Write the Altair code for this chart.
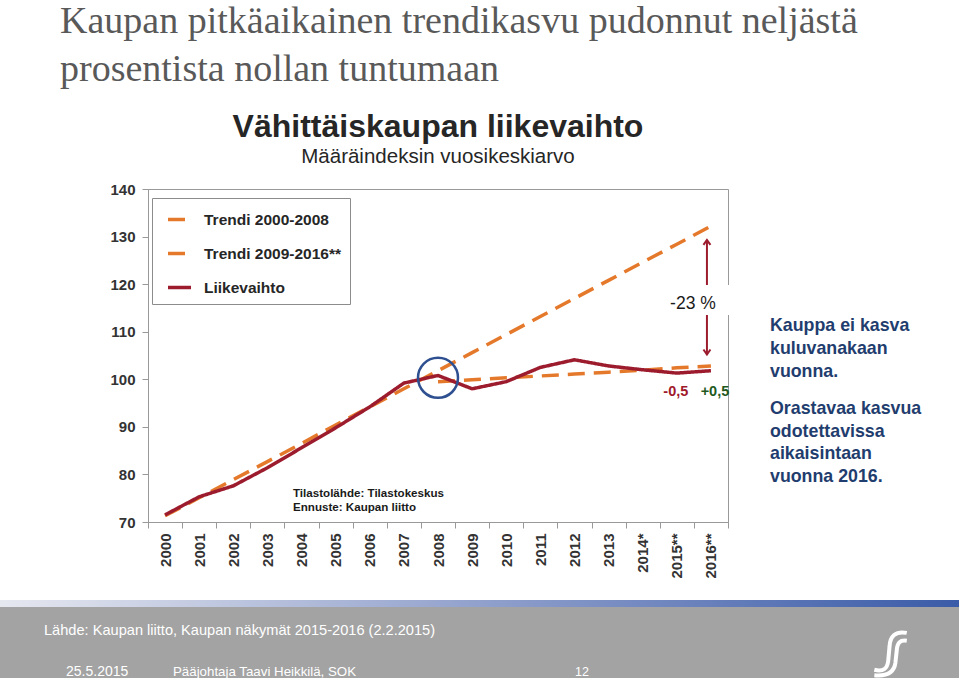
import altair as alt
import pandas as pd

# ---------------- data ----------------
years = ["2000", "2001", "2002", "2003", "2004", "2005", "2006", "2007", "2008",
         "2009", "2010", "2011", "2012", "2013", "2014*", "2015**", "2016**"]
liikevaihto = [71.5, 75.3, 77.6, 81.4, 85.6, 89.8, 94.2, 99.2, 100.8,
               98.0, 99.5, 102.5, 104.1, 102.8, 102.0, 101.3, 101.8]
trend_2000_2008 = [71.3, 75.1, 78.9, 82.7, 86.5, 90.4, 94.2, 98.0, 101.8,
                   105.6, 109.4, 113.2, 117.0, 120.8, 124.6, 128.4, 132.2]
trend2_years = ["2008", "2009", "2010", "2011", "2012", "2013", "2014*", "2015**", "2016**"]
trend_2009_2016 = [99.5, 99.9, 100.3, 100.7, 101.1, 101.5, 101.9, 102.4, 102.8]
series_names = ["Trendi 2000-2008", "Trendi 2009-2016**", "Liikevaihto"]
y_ticks = [70, 80, 90, 100, 110, 120, 130, 140]

circle_year, circle_value = "2008", 100.3
arrow_year, arrow_top, arrow_bottom = "2016**", 129.3, 105.2
gap_top, gap_bottom = 119.8, 113.5
label_23_value = 115.8
label_small_value = 97.4

ORANGE = "#E5792B"
RED = "#9C1C2D"
NAVY = "#1F3D6E"
SANS = "Liberation Sans"
SERIF = "Liberation Serif"

OX, OY = 148, 189  # plot origin on the page
W, H = 580, 333

rows = []
for y, v in zip(years, trend_2000_2008):
    rows.append({"year": y, "value": v, "series": series_names[0]})
for y, v in zip(trend2_years, trend_2009_2016):
    rows.append({"year": y, "value": v, "series": series_names[1]})
for y, v in zip(years, liikevaihto):
    rows.append({"year": y, "value": v, "series": series_names[2]})
df = pd.DataFrame(rows)

x_enc = alt.X("year:N", sort=years, title=None,
              scale=alt.Scale(type="band", domain=years, paddingInner=0, paddingOuter=0),
              axis=alt.Axis(labelAngle=270, tickBand="extent", tickSize=6, labelPadding=5,
                            labelFontSize=15, labelFontWeight="bold", labelFont=SANS,
                            labelColor="#333333", domainColor="#999999", tickColor="#999999"))
y_enc = alt.Y("value:Q", title=None,
              scale=alt.Scale(domain=[70, 140], nice=False, zero=False),
              axis=alt.Axis(values=y_ticks, grid=False, tickSize=6, labelPadding=7,
                            labelFontSize=15, labelFontWeight="bold", labelFont=SANS,
                            labelColor="#333333", domainColor="#999999", tickColor="#999999"))
color_enc = alt.Color("series:N", scale=alt.Scale(domain=series_names, range=[ORANGE, ORANGE, RED]),
                      legend=alt.Legend(title=None, orient="none", legendX=4, legendY=9,
                                        symbolType="stroke", symbolSize=529, symbolStrokeWidth=3.5,
                                        symbolOffset=6,
                                        labelFontSize=15.5, labelFontWeight="bold", labelFont=SANS,
                                        labelColor="#262626", labelOffset=11, labelLimit=300,
                                        padding=8, rowPadding=12, fillColor="white",
                                        strokeColor="#8c8c8c", cornerRadius=0))
dash_enc = alt.StrokeDash("series:N",
                          scale=alt.Scale(domain=series_names, range=[[17, 9], [17, 9], [1, 0]]),
                          legend=None)

lines = alt.Chart(df).mark_line(strokeWidth=3.5).encode(
    x=x_enc, y=y_enc, color=color_enc, strokeDash=dash_enc, detail="series:N")

circle = alt.Chart(pd.DataFrame({"year": [circle_year], "value": [circle_value]})).mark_point(
    shape="circle", size=1600, filled=False, stroke="#2E5090", strokeWidth=2.5, opacity=1
).encode(x=alt.X("year:N", sort=years), y="value:Q")

arrow_df = pd.DataFrame({"year": [arrow_year], "top": [arrow_top], "bottom": [arrow_bottom]})
arrow = alt.Chart(arrow_df).mark_rule(color=RED, strokeWidth=2, xOffset=-4).encode(
    x=alt.X("year:N", sort=years), y="top:Q", y2="bottom")
head_up = alt.Chart(arrow_df).mark_point(shape="M -0.7 1 L 0 0 L 0.7 1", size=100, filled=False,
                                          stroke=RED, strokeWidth=2, xOffset=-4, opacity=1).encode(
    x=alt.X("year:N", sort=years), y="top:Q")
head_down = alt.Chart(arrow_df).mark_point(shape="M -0.7 -1 L 0 0 L 0.7 -1", size=100, filled=False,
                                            stroke=RED, strokeWidth=2, xOffset=-4, opacity=1).encode(
    x=alt.X("year:N", sort=years), y="bottom:Q")

gap_box = alt.Chart(pd.DataFrame({"a": [gap_top], "b": [gap_bottom]})).mark_rect(color="white").encode(
    x=alt.value(668 - OX), x2=alt.value(734 - OX), y="a:Q", y2="b:Q")
lab23 = alt.Chart(pd.DataFrame({"year": [arrow_year], "value": [label_23_value]})).mark_text(
    text="-23 %", font=SANS, fontSize=17.5, color="#1a1a1a", align="center", baseline="middle", dx=-18
).encode(x=alt.X("year:N", sort=years), y="value:Q")
lab_m = alt.Chart(pd.DataFrame({"year": ["2015**"], "value": [label_small_value]})).mark_text(
    text="-0,5", font=SANS, fontSize=14.5, fontWeight="bold", color="#A0192B", align="center",
    baseline="middle", dx=-1).encode(x=alt.X("year:N", sort=years), y="value:Q")
lab_p = alt.Chart(pd.DataFrame({"year": ["2016**"], "value": [label_small_value]})).mark_text(
    text="+0,5", font=SANS, fontSize=14.5, fontWeight="bold", color="#1E5A1E", align="center",
    baseline="middle", dx=4).encode(x=alt.X("year:N", sort=years), y="value:Q")


def txt(text, x, y, size, color, weight="normal", font=SANS, align="left", baseline="alphabetic",
        line_height=None):
    kw = dict(text=text, font=font, fontSize=size, color=color, fontWeight=weight, align=align,
              baseline=baseline)
    if line_height:
        kw["lineHeight"] = line_height
    return alt.Chart(alt.Data(values=[{"k": 1}])).mark_text(**kw).encode(
        x=alt.value(x - OX), y=alt.value(y - OY))


source1 = txt("Tilastolähde: Tilastokeskus", 293, 497, 11.6, "#1a1a1a", "bold")
source2 = txt("Ennuste: Kaupan liitto", 293, 511, 11.6, "#1a1a1a", "bold")

slide_title = txt(["Kaupan pitkäaikainen trendikasvu pudonnut neljästä",
                   "prosentista nollan tuntumaan"], 60, 33, 38, "#595959", font=SERIF,
                  line_height=48)
chart_title = txt("Vähittäiskaupan liikevaihto", 438, 137, 32, "#262626", "bold", align="center")
chart_sub = txt("Määräindeksin vuosikeskiarvo", 438, 163, 20.5, "#262626", align="center")

note1 = txt(["Kauppa ei kasva", "kuluvanakaan", "vuonna."], 770, 331, 17.8, NAVY, "bold",
            line_height=22.8)
note2 = txt(["Orastavaa kasvua", "odotettavissa", "aikaisintaan", "vuonna 2016."], 770, 414, 17.8,
            NAVY, "bold", line_height=22.5)

footer_bg = alt.Chart(alt.Data(values=[{"k": 1}])).mark_rect(color="#A3A3A3").encode(
    x=alt.value(0 - OX), x2=alt.value(959 - OX), y=alt.value(607 - OY), y2=alt.value(678 - OY))
footer_bar = alt.Chart(alt.Data(values=[{"k": 1}])).mark_rect(
    fill=alt.LinearGradient(gradient="linear", x1=0, x2=1, y1=0, y2=0,
                            stops=[alt.GradientStop(offset=0, color="#E6E8F0"),
                                   alt.GradientStop(offset=0.45, color="#9AA8D0"),
                                   alt.GradientStop(offset=1, color="#3A5BA8")])).encode(
    x=alt.value(0 - OX), x2=alt.value(959 - OX), y=alt.value(600 - OY), y2=alt.value(607 - OY))
foot1 = txt("Lähde: Kaupan liitto, Kaupan näkymät 2015-2016 (2.2.2015)", 44, 635, 14.6, "white")
foot2 = txt("25.5.2015", 66, 676, 14, "white")
foot3 = txt("Pääjohtaja Taavi Heikkilä, SOK", 173, 676, 13.3, "white")
foot4 = txt("12", 575, 676, 12.5, "white")
logo = alt.Chart(alt.Data(values=[{"k": 1}])).mark_point(
    shape="M 0.75 -0.9 C 0.25 -1.0 0.0 -0.75 -0.02 -0.3 L -0.08 0.35 C -0.12 0.7 -0.3 0.85 -0.7 0.75 "
          "M 0.75 -0.55 C 0.45 -0.6 0.32 -0.45 0.3 -0.1 L 0.24 0.45 C 0.18 0.9 -0.15 1.05 -0.7 1.0",
    size=2000, filled=False, stroke="white", strokeWidth=4, opacity=1).encode(
    x=alt.value(890 - OX), y=alt.value(653 - OY))

chart = alt.layer(
    footer_bg, footer_bar, lines, circle, arrow, head_up, head_down, gap_box, lab23,
    lab_m, lab_p, source1, source2, slide_title, chart_title, chart_sub, note1, note2,
    foot1, foot2, foot3, foot4, logo
).properties(
    width=W, height=H,
    padding={"left": OX, "top": OY, "right": 959 - OX - W, "bottom": 678 - OY - H},
    autosize=alt.AutoSizeParams(type="none"),
    background="white"
).configure_view(stroke="#999999", strokeWidth=1)

chart.save("out.html", embed_options={"renderer": "svg", "actions": False})
